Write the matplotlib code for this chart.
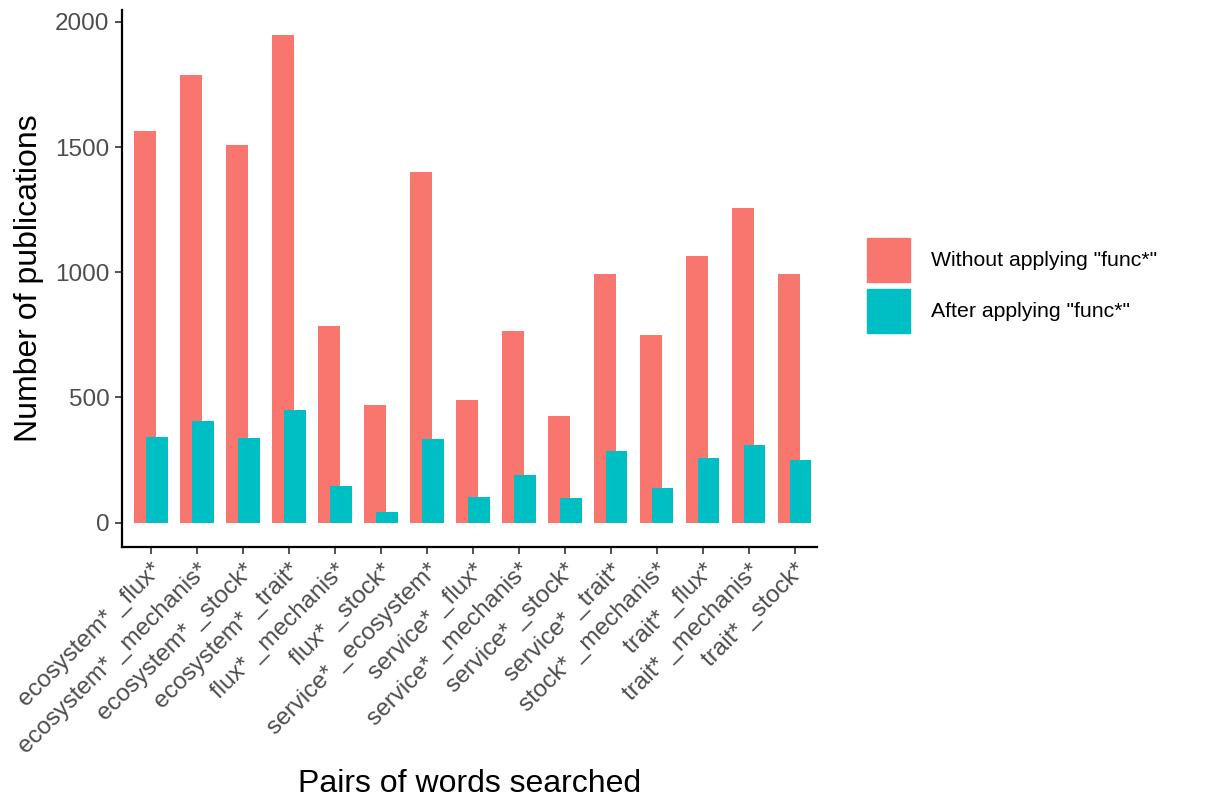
import numpy as np
import matplotlib
matplotlib.use("Agg")
import matplotlib.pyplot as plt
from matplotlib.patches import Patch

plt.rcParams.update({'font.family': ['Liberation Sans', 'DejaVu Sans']})

# data
pairs = ["ecosystem* _flux*", "ecosystem* _mechanis*", "ecosystem* _stock*",
         "ecosystem* _trait*", "flux* _mechanis*", "flux* _stock*",
         "service* _ecosystem*", "service* _flux*", "service* _mechanis*",
         "service* _stock*", "service* _trait*", "stock* _mechanis*",
         "trait* _flux*", "trait* _mechanis*", "trait* _stock*"]
without_func = [1566, 1787, 1508, 1947, 786, 468, 1400, 490, 764, 426,
                991, 749, 1065, 1256, 991]
after_func = [342, 406, 337, 450, 145, 43, 334, 102, 189, 97,
              287, 140, 259, 311, 249]

RED = "#F8766D"
TEAL = "#00BFC4"
BAR_W = 0.46
OFFSET = 0.13

fig = plt.figure(figsize=(12.12, 8.02), dpi=100)
ax = fig.add_axes([122/1212, 1-547/802, (817-122)/1212, (547-10)/802])

x = np.arange(len(pairs))
ax.bar(x - OFFSET, without_func, width=BAR_W, color=RED, zorder=2)
ax.bar(x + OFFSET, after_func, width=BAR_W, color=TEAL, zorder=3)

ax.set_xlim(-0.63, 14.48)
ax.set_ylim(-97.5, 2047.5)
ax.set_yticks([0, 500, 1000, 1500, 2000])
ax.set_xticks(x)
ax.set_xticklabels(pairs, rotation=45, ha="right", rotation_mode="anchor")

for s in ["top", "right"]:
    ax.spines[s].set_visible(False)
for s in ["left", "bottom"]:
    ax.spines[s].set_linewidth(1.6)
    ax.spines[s].set_color("black")
ax.tick_params(axis="both", length=5, width=1.2, color="#333333",
               labelcolor="#4D4D4D", labelsize=17.5, pad=4)

ax.set_xlabel("Pairs of words searched", fontsize=23, labelpad=8)
ax.set_ylabel("Number of publications", fontsize=23, labelpad=8)

handles = [Patch(color=RED), Patch(color=TEAL)]
fig.legend(handles, ['Without applying "func*"', 'After applying "func*"'],
           loc="upper left", bbox_to_anchor=(856/1212, 1-227/802),
           frameon=False, fontsize=15.3, borderpad=0,
           handlelength=2.05, handleheight=2.85, handletextpad=1.0,
           labelspacing=0.3)

fig.savefig("out.png", dpi=100)
